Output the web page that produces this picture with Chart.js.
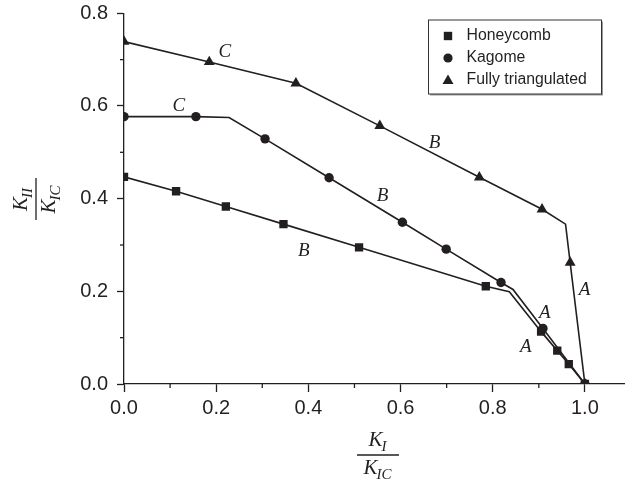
<!DOCTYPE html>
<html lang="en">
<head>
    <meta charset="UTF-8">
    <meta name="viewport" content="width=device-width, initial-scale=1.0">
    <title>Failure envelopes</title>
    <script src="https://cdn.jsdelivr.net/npm/chart.js"></script>
    <style>
        html, body {
            margin: 0;
            padding: 0;
            background: #fff;
        }
        .chart-container {
            position: relative;
            width: 625px;
            height: 486px;
        }
    </style>
</head>
<body>
    <div class="chart-container">
        <canvas id="envelopeChart"></canvas>
    </div>

    <script>
        // Envelope vertices, K_I/K_IC (x) against K_II/K_IC (y)
        const honeycombX = [0, 0.113, 0.221, 0.346, 0.510, 0.785, 0.836, 0.905, 0.940, 0.965, 1.0];
        const honeycombY = [0.447, 0.416, 0.383, 0.345, 0.295, 0.211, 0.199, 0.113, 0.072, 0.043, 0];
        const honeycombMarked = [true, true, true, true, true, true, false, true, true, true, true];

        const kagomeX = [0, 0.156, 0.228, 0.306, 0.445, 0.604, 0.699, 0.818, 0.844, 0.909, 1.0];
        const kagomeY = [0.577, 0.577, 0.575, 0.529, 0.445, 0.349, 0.291, 0.219, 0.204, 0.120, 0];
        const kagomeMarked = [true, true, false, true, true, true, true, true, false, true, true];

        const triangulatedX = [0, 0.185, 0.373, 0.555, 0.771, 0.907, 0.958, 0.968, 1.0];
        const triangulatedY = [0.739, 0.695, 0.649, 0.557, 0.446, 0.377, 0.345, 0.262, 0];
        const triangulatedMarked = [true, true, true, true, true, true, false, true, true];

        const seriesNames = ['Honeycomb', 'Kagome', 'Fully triangulated'];

        const xMajorTicks = [0, 0.2, 0.4, 0.6, 0.8, 1.0];
        const xMinorTicks = [0.1, 0.3, 0.5, 0.7, 0.9];
        const yMajorTicks = [0, 0.2, 0.4, 0.6, 0.8];
        const yMinorTicks = [0.1, 0.3, 0.5, 0.7];

        // failure-mode letters along the envelopes
        const regimeLabels = [
            { text: 'C', x: 0.219, y: 0.717 },
            { text: 'C', x: 0.119, y: 0.601 },
            { text: 'B', x: 0.674, y: 0.521 },
            { text: 'B', x: 0.561, y: 0.405 },
            { text: 'B', x: 0.390, y: 0.286 },
            { text: 'A', x: 0.999, y: 0.203 },
            { text: 'A', x: 0.913, y: 0.153 },
            { text: 'A', x: 0.872, y: 0.079 }
        ];

        const INK = '#231f20';
        const SANS = '"Liberation Sans", Arial, Helvetica, sans-serif';
        const SERIF = '"Liberation Serif", "Times New Roman", serif';

        function toPoints(xs, ys) {
            return xs.map((x, i) => ({ x: x, y: ys[i] }));
        }

        function makeSeries(name, xs, ys, marked, style, radius) {
            return {
                label: name,
                data: toPoints(xs, ys),
                showLine: true,
                borderColor: INK,
                borderWidth: 1.6,
                backgroundColor: INK,
                pointStyle: style,
                pointRadius: marked.map(m => m ? radius : 0),
                pointHoverRadius: marked.map(m => m ? radius : 0),
                pointBorderWidth: 0,
                pointBackgroundColor: INK
            };
        }

        function strokeLine(ctx, x1, y1, x2, y2) {
            ctx.beginPath();
            ctx.moveTo(x1, y1);
            ctx.lineTo(x2, y2);
            ctx.stroke();
        }

        // K with a subscript, horizontally centred on cx
        function drawK(ctx, cx, baseline, sub) {
            ctx.font = 'italic 21px ' + SERIF;
            const kw = ctx.measureText('K').width;
            ctx.font = 'italic 15px ' + SERIF;
            const sw = ctx.measureText(sub).width;
            const left = cx - (kw + sw) / 2;
            ctx.font = 'italic 21px ' + SERIF;
            ctx.fillText('K', left, baseline);
            ctx.font = 'italic 15px ' + SERIF;
            ctx.fillText(sub, left + kw - 1, baseline + 5);
        }

        function drawFraction(ctx, cx, cy, numSub, denSub) {
            ctx.textAlign = 'left';
            ctx.textBaseline = 'alphabetic';
            drawK(ctx, cx, cy - 9, numSub);
            drawK(ctx, cx, cy + 19, denSub);
            ctx.lineWidth = 1.3;
            strokeLine(ctx, cx - 21, cy, cx + 21, cy);
        }

        function drawMarker(ctx, style, x, y) {
            ctx.beginPath();
            if (style === 'rect') {
                ctx.rect(x - 4.2, y - 4.2, 8.4, 8.4);
            } else if (style === 'circle') {
                ctx.arc(x, y, 4.6, 0, Math.PI * 2);
            } else {
                ctx.moveTo(x, y - 5.5);
                ctx.lineTo(x + 5.5, y + 4);
                ctx.lineTo(x - 5.5, y + 4);
                ctx.closePath();
            }
            ctx.fill();
        }

        const decorations = {
            id: 'decorations',
            afterDraw(chart) {
                const ctx = chart.ctx;
                const xs = chart.scales.x;
                const ys = chart.scales.y;
                ctx.save();
                ctx.strokeStyle = INK;
                ctx.fillStyle = INK;

                // minor ticks
                ctx.lineWidth = 1.3;
                xMinorTicks.forEach(v => {
                    const px = xs.getPixelForValue(v);
                    strokeLine(ctx, px, ys.bottom, px, ys.bottom + 4);
                });
                yMinorTicks.forEach(v => {
                    const py = ys.getPixelForValue(v);
                    strokeLine(ctx, xs.left - 4, py, xs.left, py);
                });

                // regime letters
                ctx.font = 'italic 19px ' + SERIF;
                ctx.textAlign = 'center';
                ctx.textBaseline = 'middle';
                regimeLabels.forEach(l => {
                    ctx.fillText(l.text, xs.getPixelForValue(l.x), ys.getPixelForValue(l.y));
                });

                // axis titles
                drawFraction(ctx, 378, 455, 'I', 'IC');
                ctx.save();
                ctx.translate(36, 199);
                ctx.rotate(-Math.PI / 2);
                drawFraction(ctx, 0, 0, 'II', 'IC');
                ctx.restore();

                // legend box
                const bx = 428.5, by = 20, bw = 173, bh = 74;
                ctx.fillStyle = '#9a9a9a';
                ctx.fillRect(bx + 1.5, by + 1.5, bw, bh);
                ctx.fillStyle = '#fff';
                ctx.fillRect(bx, by, bw, bh);
                ctx.lineWidth = 1;
                ctx.strokeStyle = '#333';
                ctx.strokeRect(bx, by, bw, bh);

                ctx.fillStyle = INK;
                ctx.font = '15.8px ' + SANS;
                ctx.textAlign = 'left';
                ctx.textBaseline = 'middle';
                chart.data.datasets.forEach((ds, i) => {
                    const rowY = 36 + i * 22;
                    drawMarker(ctx, ds.pointStyle, 448, rowY);
                    ctx.fillText(ds.label, 466.5, rowY);
                });

                ctx.restore();
            }
        };

        const ctx = document.getElementById('envelopeChart').getContext('2d');
        const envelopeChart = new Chart(ctx, {
            type: 'scatter',
            data: {
                datasets: [
                    makeSeries(seriesNames[0], honeycombX, honeycombY, honeycombMarked, 'rect', 5.9),
                    makeSeries(seriesNames[1], kagomeX, kagomeY, kagomeMarked, 'circle', 4.7),
                    makeSeries(seriesNames[2], triangulatedX, triangulatedY, triangulatedMarked, 'triangle', 6.3)
                ]
            },
            options: {
                responsive: true,
                maintainAspectRatio: false,
                animation: false,
                events: [],
                layout: {
                    autoPadding: false,
                    padding: { top: 13.3, right: 0, bottom: 0, left: 0 }
                },
                plugins: {
                    legend: { display: false },
                    tooltip: { enabled: false }
                },
                scales: {
                    x: {
                        type: 'linear',
                        min: 0,
                        max: 1.087,
                        afterFit: scale => {
                            scale.height = 102;
                            scale.paddingLeft = 0;
                            scale.paddingRight = 0;
                        },
                        afterBuildTicks: scale => {
                            scale.ticks = xMajorTicks.map(v => ({ value: v }));
                        },
                        border: { color: INK, width: 1.3 },
                        grid: {
                            drawOnChartArea: false,
                            tickLength: 8,
                            tickColor: INK,
                            tickWidth: 1.3
                        },
                        ticks: {
                            color: INK,
                            padding: 4,
                            maxRotation: 0,
                            font: { family: SANS, size: 20 },
                            callback: v => v.toFixed(1)
                        }
                    },
                    y: {
                        type: 'linear',
                        min: 0,
                        max: 0.8,
                        afterFit: scale => {
                            scale.width = 124;
                            scale.paddingTop = 0;
                            scale.paddingBottom = 0;
                        },
                        afterBuildTicks: scale => {
                            scale.ticks = yMajorTicks.map(v => ({ value: v }));
                        },
                        border: { color: INK, width: 1.3 },
                        grid: {
                            drawOnChartArea: false,
                            tickLength: 7,
                            tickColor: INK,
                            tickWidth: 1.3
                        },
                        ticks: {
                            color: INK,
                            padding: 9,
                            font: { family: SANS, size: 20 },
                            callback: v => v.toFixed(1)
                        }
                    }
                }
            },
            plugins: [decorations]
        });
    </script>
</body>
</html>
